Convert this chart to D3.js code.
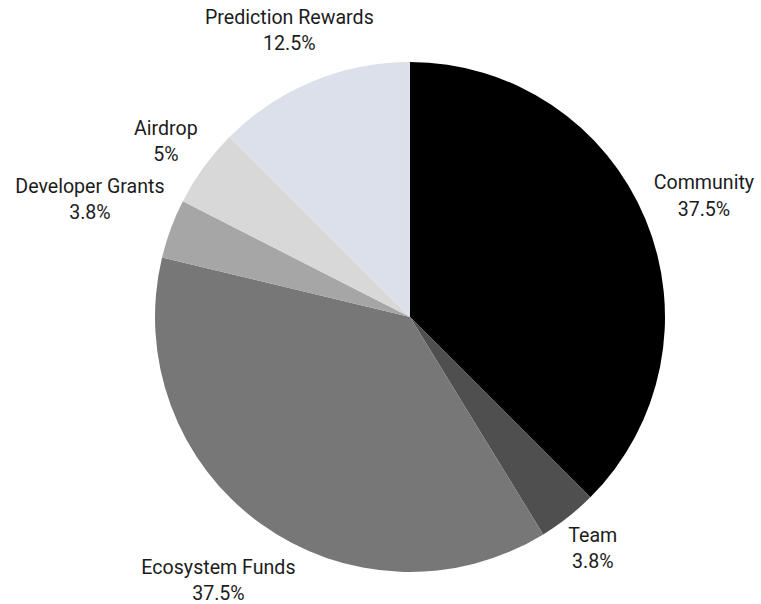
<!DOCTYPE html>
<html>
<head>
<meta charset="utf-8">
<script src="https://cdn.jsdelivr.net/npm/d3@7"></script>
<style>
  body { margin: 0; background: #fff; }
  #canvas { width: 761px; height: 604px; }
  text { font-family: Roboto, "Noto Sans", sans-serif; fill: #1c1c1c; }
</style>
</head>
<body>
<div id="canvas"></div>
<script>
// data
var categories = ["Community", "Team", "Ecosystem Funds", "Developer Grants", "Airdrop", "Prediction Rewards"];
var shares = [37.5, 3.75, 37.5, 3.75, 5, 12.5];
var colors = ["#000000", "#4f4f4f", "#777777", "#a6a6a6", "#d8d8d8", "#dce0eb"];

var width = 761, height = 604;
var cx = 410, cy = 317, radius = 255;
var labelGap = 264;   // distance from centre to the inner edge of each label block

var svg = d3.select("#canvas").append("svg")
	.attr("width", width)
	.attr("height", height);

var rows = categories.map(function(c, i){ return {name: c, value: shares[i], color: colors[i]}; });

var pie = d3.pie().value(function(d){ return d.value; }).sort(null);
var arc = d3.arc().innerRadius(0).outerRadius(radius);
var arcs = pie(rows);

var g = svg.append("g").attr("transform", "translate(" + cx + "," + cy + ")");

g.selectAll("path.slice")
	.data(arcs)
	.enter().append("path")
	.attr("class", "slice")
	.attr("d", arc)
	.attr("fill", function(d){ return d.data.color; });

var fmt = function(v){ return (Math.round(v * 10) / 10) + "%"; };

var labels = g.selectAll("text.lbl")
	.data(arcs)
	.enter().append("text")
	.attr("class", "lbl")
	.attr("text-anchor", "middle")
	.style("font-size", "19.6px");

labels.append("tspan").attr("x", 0).attr("dy", 0).text(function(d){ return d.data.name; });
labels.append("tspan").attr("x", 0).attr("dy", "1.33em").text(function(d){ return fmt(d.data.value); });

// push each label out along its slice's middle ray until its box clears the pie
labels.each(function(d){
	var bb = this.getBBox();
	var a = (d.startAngle + d.endAngle) / 2;
	var s = Math.sin(a), c = -Math.cos(a);
	var hw = bb.width / 2, hh = (bb.height - 8) / 2;
	var dist = labelGap + Math.abs(s) * hw + Math.abs(c) * hh;
	var tx = s * dist - (bb.x + bb.width / 2);
	var ty = c * dist - (bb.y + bb.height / 2);
	if(c < 0) ty += 6 * c * c;   // labels above sit a little lower
	d3.select(this).attr("transform", "translate(" + tx + "," + ty + ")");
});
</script>
</body>
</html>
